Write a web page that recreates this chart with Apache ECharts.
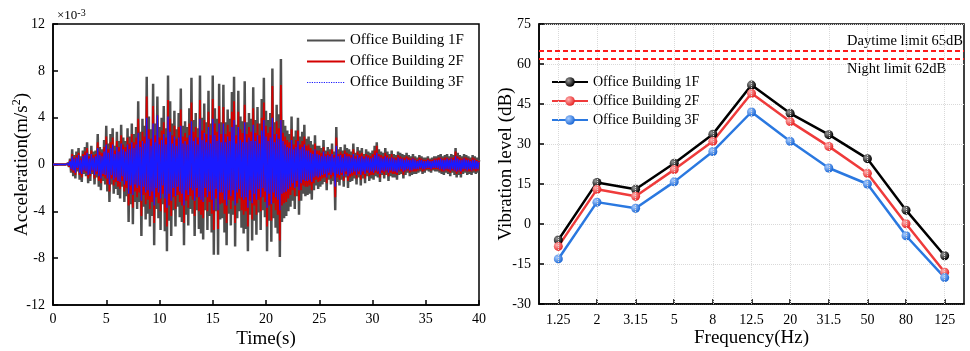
<!DOCTYPE html>
<html>
<head>
<meta charset="utf-8">
<script src="https://cdn.jsdelivr.net/npm/echarts@6/dist/echarts.min.js"></script>
<style>
  html, body { margin: 0; padding: 0; background: #fff; }
  #chart { width: 970px; height: 351px; }
</style>
</head>
<body>
<div id="chart"></div>
<script>
// left panel: acceleration time history, one sample every 0.1 s, values in 1e-3 m/s2
const sampleStep = 0.1;
const floor1Accel = [
  0,0,0,0,0,0,0,0,0,0,
  0,0,0,0,0.1,-0.2,0.5,-0.7,1.3,-1.0,
  0.8,-1.2,1.1,-0.6,1.4,-1.3,0.7,-1.5,1.2,-0.8,
  1.5,-1.0,1.9,-1.6,0.9,-1.4,1.6,-0.8,1.1,-1.7,
  1.2,-1.1,2.6,-1.9,1.5,-2.2,1.3,-1.4,2.1,-1.7,
  3.3,-2.3,1.8,-3.2,2.6,-1.7,3.1,-2.5,1.6,-2.1,
  2.8,-2.6,2.0,-2.9,3.4,-1.9,2.3,-3.2,2.0,-2.7,
  3.1,-4.9,2.4,-3.4,3.5,-5.1,2.6,-3.2,3.2,-3.8,
  5.4,-3.2,2.8,-6.1,3.9,-3.6,3.3,-4.7,7.5,-4.2,
  4.1,-5.3,3.0,-4.4,6.9,-6.9,3.5,-3.8,5.8,-4.6,
  3.2,-5.6,4.0,-3.4,5.0,-5.7,3.1,-7.4,7.6,-4.8,
  5.4,-6.1,3.5,-3.9,4.6,-5.3,3.0,-3.6,4.4,-4.5,
  6.5,-4.9,3.3,-6.9,3.7,-4.3,3.2,-5.2,4.8,-3.8,
  7.4,-4.2,3.8,-6.1,4.4,-3.9,3.1,-5.5,7.6,-5.9,
  4.0,-6.4,5.2,-3.9,3.6,-5.6,6.3,-4.4,3.5,-5.8,
  7.6,-7.7,4.8,-4.0,3.9,-7.7,6.9,-4.7,3.6,-4.6,
  6.8,-5.8,3.6,-6.9,4.7,-4.2,3.9,-5.2,6.2,-4.3,
  7.5,-7.0,3.4,-4.6,6.3,-4.0,4.1,-5.4,3.7,-5.9,
  7.1,-5.5,3.6,-7.4,4.4,-4.3,3.9,-6.5,6.6,-4.8,
  3.8,-6.0,4.9,-4.1,3.5,-5.6,5.6,-3.9,7.4,-4.5,
  4.6,-7.4,3.8,-4.8,4.4,-6.6,8.2,-4.6,3.6,-5.4,
  5.1,-5.9,4.3,-7.9,9.0,-4.9,3.8,-4.6,3.3,-4.4,
  2.9,-4.0,2.6,-3.6,4.1,-3.1,2.4,-3.8,2.9,-2.7,
  4.0,-4.3,2.4,-3.1,2.8,-2.5,3.4,-2.7,2.2,-2.6,
  2.4,-2.5,2.0,-3.0,1.7,-2.2,2.5,-1.8,1.6,-2.1,
  1.6,-1.9,1.4,-1.7,2.1,-1.5,1.2,-2.2,1.5,-1.3,
  1.3,-1.7,1.8,-1.4,1.1,-3.9,3.2,-1.5,1.3,-1.8,
  1.5,-1.3,1.2,-1.9,1.7,-1.1,1.4,-2.0,1.3,-1.5,
  1.1,-1.4,1.8,-1.2,1.0,-1.7,1.5,-1.1,1.2,-1.8,
  1.4,-1.2,0.9,-1.6,1.3,-1.0,1.1,-1.4,1.0,-1.2,
  1.2,-1.3,1.6,-1.0,1.9,-1.1,1.3,-1.5,1.1,-0.9,
  1.0,-1.2,1.4,-0.9,1.1,-1.4,0.9,-1.0,1.2,-1.1,
  0.9,-1.1,0.8,-1.3,1.1,-0.9,1.0,-0.8,0.9,-1.2,
  0.8,-0.9,1.0,-0.7,0.8,-1.0,0.7,-0.9,0.9,-0.8,
  0.7,-0.8,0.6,-0.7,0.8,-0.6,0.7,-0.8,0.6,-0.7,
  0.6,-0.5,0.7,-0.6,0.5,-0.7,0.6,-0.5,0.7,-0.6,
  0.7,-0.6,0.8,-0.7,0.9,-0.8,0.7,-0.9,0.8,-0.7,
  0.9,-0.8,0.7,-1.0,0.9,-0.7,0.8,-0.9,1.4,-1.1,
  1.0,-0.9,0.8,-1.1,0.7,-0.8,0.9,-0.7,0.8,-0.9,
  0.7,-0.8,0.6,-0.9,0.8,-0.7,0.7,-0.8,0.6,-0.7,
  0.4
];
const floor2Accel = [
  0,0,0,0,0,0,0,0,0,0,
  0,0,0,0,0.1,-0.2,0.4,-0.5,0.9,-0.7,
  0.6,-0.9,0.8,-0.4,1.0,-0.9,0.5,-1.1,0.9,-0.6,
  1.1,-0.7,1.4,-1.2,0.7,-1.0,1.2,-0.6,0.8,-1.2,
  0.9,-0.8,1.9,-1.4,1.1,-1.6,1.0,-1.0,1.5,-1.2,
  2.4,-1.7,1.3,-2.3,1.9,-1.2,2.3,-1.8,1.2,-1.5,
  2.0,-1.9,1.5,-2.1,2.5,-1.4,1.7,-2.3,1.5,-2.0,
  2.3,-3.5,1.8,-2.5,2.6,-3.7,1.9,-2.3,2.3,-2.8,
  3.9,-2.4,2.0,-4.4,2.8,-2.6,2.4,-3.4,5.8,-3.0,
  3.0,-3.8,2.2,-3.2,5.0,-5.0,2.5,-2.8,4.2,-3.3,
  2.3,-4.0,2.9,-2.5,3.6,-4.1,2.3,-5.3,5.5,-3.5,
  3.9,-4.4,2.5,-2.8,3.3,-3.8,2.2,-2.6,3.2,-3.2,
  4.7,-3.5,2.4,-5.0,2.7,-3.1,2.3,-3.7,3.5,-2.7,
  5.3,-3.0,2.8,-4.4,3.2,-2.8,2.3,-4.0,5.5,-4.3,
  2.9,-4.6,3.8,-2.8,2.6,-4.0,4.5,-3.2,2.5,-4.2,
  5.6,-5.6,3.5,-2.9,2.8,-5.5,5.0,-3.4,2.6,-3.3,
  4.9,-4.2,2.6,-5.0,3.4,-3.0,2.8,-3.8,4.5,-3.1,
  5.4,-5.0,2.5,-3.3,4.5,-2.9,3.0,-3.9,2.7,-4.3,
  5.1,-4.0,2.6,-5.3,3.2,-3.1,2.8,-4.7,4.8,-3.5,
  2.7,-4.3,3.5,-3.0,2.5,-4.0,4.0,-2.8,5.3,-3.2,
  3.3,-5.3,2.7,-3.5,3.2,-4.8,6.7,-3.3,2.6,-3.9,
  3.7,-4.3,3.1,-6.5,6.8,-3.5,2.7,-3.3,2.4,-3.2,
  2.1,-2.9,1.9,-2.6,3.0,-2.2,1.7,-2.7,2.1,-1.9,
  2.9,-3.1,1.7,-2.2,2.0,-1.8,2.4,-1.9,1.6,-1.9,
  1.7,-1.8,1.4,-2.2,1.2,-1.6,1.8,-1.3,1.2,-1.5,
  1.2,-1.4,1.0,-1.2,1.5,-1.1,0.9,-1.6,1.1,-0.9,
  0.9,-1.2,1.3,-1.0,0.8,-2.8,2.3,-1.1,0.9,-1.3,
  1.1,-0.9,0.9,-1.4,1.2,-0.8,1.0,-1.4,0.9,-1.1,
  0.8,-1.0,1.3,-0.9,0.7,-1.2,1.1,-0.8,0.9,-1.3,
  1.0,-0.9,0.7,-1.2,0.9,-0.7,0.8,-1.0,0.7,-0.9,
  0.9,-0.9,1.2,-0.7,1.6,-0.8,0.9,-1.1,0.8,-0.7,
  0.7,-0.9,1.0,-0.6,0.8,-1.0,0.6,-0.7,0.9,-0.8,
  0.6,-0.8,0.6,-0.9,0.8,-0.6,0.7,-0.6,0.6,-0.9,
  0.6,-0.6,0.7,-0.5,0.6,-0.7,0.5,-0.6,0.6,-0.6,
  0.5,-0.6,0.4,-0.5,0.6,-0.4,0.5,-0.6,0.4,-0.5,
  0.4,-0.4,0.5,-0.4,0.4,-0.5,0.4,-0.4,0.5,-0.4,
  0.5,-0.4,0.6,-0.5,0.6,-0.6,0.5,-0.6,0.6,-0.5,
  0.6,-0.6,0.5,-0.7,0.6,-0.5,0.6,-0.6,1.1,-0.8,
  0.7,-0.6,0.6,-0.8,0.5,-0.6,0.6,-0.5,0.6,-0.6,
  0.5,-0.6,0.4,-0.6,0.6,-0.5,0.5,-0.6,0.4,-0.5,
  0.3
];
const floor3Accel = [
  0,0,0,0,0,0,0,0,0,0,
  0,0,0,0,0.1,-0.1,0.3,-0.4,0.7,-0.5,
  0.5,-0.7,0.6,-0.3,0.8,-0.7,0.4,-0.8,0.7,-0.5,
  0.8,-0.6,1.0,-0.9,0.5,-0.8,0.9,-0.5,0.6,-0.9,
  0.7,-0.6,1.4,-1.0,0.8,-1.2,0.7,-0.8,1.1,-0.9,
  1.7,-1.2,1.0,-1.7,1.4,-0.9,1.7,-1.3,0.9,-1.1,
  1.5,-1.4,1.1,-1.5,1.8,-1.0,1.3,-1.7,1.1,-1.4,
  1.7,-2.5,1.3,-1.8,1.9,-2.6,1.4,-1.7,1.7,-2.0,
  2.7,-1.8,1.5,-3.1,2.0,-1.9,1.8,-2.4,4.0,-2.2,
  2.2,-2.7,1.6,-2.3,3.5,-3.5,1.9,-2.0,4.2,-2.4,
  1.7,-2.9,2.1,-1.8,2.6,-2.9,1.7,-3.7,4.1,-2.5,
  2.8,-3.1,1.8,-2.0,2.4,-2.7,1.6,-1.9,2.3,-2.3,
  3.3,-2.5,1.8,-3.5,2.0,-2.2,1.7,-2.6,2.5,-2.0,
  3.7,-2.2,2.0,-3.1,2.3,-2.0,1.7,-2.8,3.9,-3.0,
  2.1,-3.2,2.7,-2.0,1.9,-2.8,3.2,-2.3,1.8,-3.0,
  3.9,-3.9,2.5,-2.1,2.0,-3.9,3.5,-2.4,1.9,-2.4,
  3.5,-3.0,1.9,-3.5,2.4,-2.2,2.0,-2.7,3.2,-2.2,
  3.8,-3.5,1.8,-2.4,3.2,-2.1,2.1,-2.8,1.9,-3.0,
  3.6,-2.8,1.9,-3.7,2.3,-2.2,2.0,-3.3,3.4,-2.5,
  2.0,-3.0,2.5,-2.1,1.8,-2.8,2.9,-2.0,3.8,-2.3,
  2.4,-3.7,2.0,-2.5,2.3,-3.4,4.0,-2.4,1.9,-2.8,
  2.6,-3.0,2.2,-3.9,3.8,-2.5,2.0,-2.4,1.7,-2.3,
  1.5,-2.1,1.4,-1.9,2.1,-1.6,1.3,-2.0,1.5,-1.4,
  2.0,-2.2,1.3,-1.6,1.5,-1.3,1.7,-1.4,1.2,-1.4,
  1.2,-1.3,1.0,-1.5,0.9,-1.1,1.3,-1.0,0.9,-1.1,
  0.8,-1.0,0.7,-0.9,1.1,-0.8,0.7,-1.1,0.8,-0.7,
  0.7,-0.9,0.9,-0.7,0.6,-1.9,1.6,-0.8,0.7,-0.9,
  0.8,-0.7,0.6,-1.0,0.9,-0.6,0.7,-1.0,0.7,-0.8,
  0.6,-0.7,0.9,-0.6,0.5,-0.9,0.8,-0.6,0.6,-0.9,
  0.7,-0.6,0.5,-0.8,0.7,-0.5,0.6,-0.7,0.5,-0.6,
  0.6,-0.7,0.8,-0.5,1.0,-0.6,0.7,-0.8,0.6,-0.5,
  0.5,-0.6,0.7,-0.5,0.6,-0.7,0.5,-0.5,0.6,-0.6,
  0.5,-0.6,0.4,-0.7,0.6,-0.5,0.5,-0.4,0.5,-0.6,
  0.4,-0.5,0.5,-0.4,0.4,-0.5,0.4,-0.5,0.5,-0.4,
  0.4,-0.4,0.3,-0.4,0.4,-0.3,0.4,-0.4,0.3,-0.4,
  0.3,-0.3,0.4,-0.3,0.3,-0.4,0.3,-0.3,0.4,-0.3,
  0.4,-0.3,0.4,-0.4,0.5,-0.4,0.4,-0.5,0.4,-0.4,
  0.5,-0.4,0.4,-0.5,0.5,-0.4,0.4,-0.5,0.7,-0.6,
  0.5,-0.5,0.4,-0.6,0.4,-0.4,0.5,-0.4,0.4,-0.5,
  0.4,-0.4,0.3,-0.5,0.4,-0.4,0.4,-0.4,0.3,-0.4,
  0.2
];

// right panel: vibration level per 1/3 octave band
const freqBands = ['1.25', '2', '3.15', '5', '8', '12.5', '20', '31.5', '50', '80', '125'];
const level1F = [-6, 15.6, 13, 22.8, 33.7, 52.1, 41.5, 33.5, 24.5, 5.2, -11.9];
const level2F = [-8.4, 13, 10.4, 20.4, 31, 49, 38.4, 29.1, 19, 0.1, -18.1];
const level3F = [-13.1, 8.2, 5.9, 15.8, 27.2, 42, 31, 21, 15, -4.4, -20.1];
const dayLimit = 65;
const nightLimit = 62;

const seriesNames = ['Office Building 1F', 'Office Building 2F', 'Office Building 3F'];

const serif = 'Liberation Serif, Times New Roman, serif';
const chart = echarts.init(document.getElementById('chart'));

const toPairs = (arr) => arr.map((v, i) => [Math.round(i * sampleStep * 10) / 10, v]);

const ball = (light, dark) => new echarts.graphic.RadialGradient(0.35, 0.35, 0.65, [
  { offset: 0, color: light },
  { offset: 1, color: dark },
]);

const frameAxis = {
  axisLine: { show: true, onZero: false, lineStyle: { color: '#000', width: 1.5 } },
  axisTick: { show: true, inside: true, length: 5, lineStyle: { color: '#000', width: 1.5 } },
  axisLabel: { color: '#000', fontFamily: serif, fontSize: 14 },
  nameTextStyle: { color: '#000', fontFamily: serif, fontSize: 19 },
  nameMoveOverlap: false,
};

const gridDots = { color: '#d9d9d9', type: 'dotted', width: 1 };

chart.setOption({
  animation: false,
  backgroundColor: '#fff',
  grid: [
    { left: 53, right: 491, top: 24, bottom: 46, show: true, borderColor: '#000', borderWidth: 1.5, outerBoundsMode: 'none' },
    { left: 539, right: 6, top: 24, bottom: 47, show: true, borderColor: '#000', borderWidth: 1.5, outerBoundsMode: 'none' },
  ],
  legend: [
    {
      data: seriesNames.map((n, i) => ({
        name: n,
        itemStyle: { opacity: 0 },
        lineStyle: i === 2 ? { type: 'dotted', width: 1.2 } : undefined,
      })),
      orient: 'vertical',
      left: 301,
      top: 28,
      itemWidth: 38,
      itemHeight: 14,
      itemGap: 6,
      textStyle: { color: '#000', fontFamily: serif, fontSize: 15 },
    },
    {
      data: seriesNames.map((n) => n + ' '),
      orient: 'vertical',
      left: 546,
      top: 70,
      itemWidth: 36,
      itemHeight: 12,
      itemGap: 5,
      formatter: (n) => n.trim(),
      textStyle: { color: '#000', fontFamily: serif, fontSize: 14 },
    },
  ],
  xAxis: [
    {
      ...frameAxis,
      type: 'value',
      gridIndex: 0,
      min: 0,
      max: 40,
      interval: 5,
      name: 'Time(s)',
      nameLocation: 'middle',
      nameGap: 25,
      axisLabel: { ...frameAxis.axisLabel, margin: 7 },
      splitLine: { show: false },
    },
    {
      ...frameAxis,
      type: 'category',
      gridIndex: 1,
      data: freqBands,
      boundaryGap: true,
      name: 'Frequency(Hz)',
      nameLocation: 'middle',
      nameGap: 25,
      axisTick: { ...frameAxis.axisTick, alignWithLabel: true },
      axisLabel: { ...frameAxis.axisLabel, margin: 9 },
      splitLine: { show: false },
    },
  ],
  yAxis: [
    {
      ...frameAxis,
      type: 'value',
      gridIndex: 0,
      min: -12,
      max: 12,
      interval: 4,
      name: 'Acceleration(m/s{sup|2})',
      nameLocation: 'middle',
      nameGap: 20,
      nameTextStyle: {
        ...frameAxis.nameTextStyle,
        rich: { sup: { fontFamily: serif, fontSize: 12, verticalAlign: 'top', padding: [0, 0, 10, 0], color: '#000' } },
      },
      axisLabel: { ...frameAxis.axisLabel, margin: 8 },
      splitLine: { show: false },
    },
    {
      ...frameAxis,
      type: 'value',
      gridIndex: 1,
      min: -30,
      max: 75,
      interval: 15,
      name: 'Vibration level (dB)',
      nameLocation: 'middle',
      nameGap: 23,
      axisLabel: { ...frameAxis.axisLabel, margin: 8 },
      splitLine: { show: true, lineStyle: gridDots },
    },
  ],
  series: [
    {
      name: seriesNames[0], type: 'line', xAxisIndex: 0, yAxisIndex: 0,
      data: toPairs(floor1Accel), symbol: 'none',
      lineStyle: { color: '#4f4f4f', width: 2.5 }, itemStyle: { color: '#4f4f4f' },
    },
    {
      name: seriesNames[1], type: 'line', xAxisIndex: 0, yAxisIndex: 0,
      data: toPairs(floor2Accel), symbol: 'none',
      lineStyle: { color: '#d40000', width: 1.8 }, itemStyle: { color: '#d40000' },
    },
    {
      name: seriesNames[2], type: 'line', xAxisIndex: 0, yAxisIndex: 0,
      data: toPairs(floor3Accel), symbol: 'none',
      lineStyle: { color: '#1a1aff', width: 1.3 }, itemStyle: { color: '#1a1aff' },
    },
    {
      // vertical dotted grid at every band centre
      name: 'bandGrid', type: 'line', xAxisIndex: 1, yAxisIndex: 1, data: [], z: 1,
      markLine: {
        silent: true, symbol: 'none', label: { show: false },
        lineStyle: gridDots,
        data: freqBands.map((f) => ({ xAxis: f })),
      },
    },
    {
      name: seriesNames[0] + ' ', type: 'line', xAxisIndex: 1, yAxisIndex: 1,
      data: level1F, symbol: 'circle', symbolSize: 9,
      lineStyle: { color: '#000', width: 2.5 }, itemStyle: { color: ball('#9a9a9a', '#000') },
      markLine: {
        silent: true, symbol: 'none', label: { show: false },
        lineStyle: { color: '#ff1a1a', type: [5, 3], width: 2 },
        data: [{ yAxis: dayLimit }, { yAxis: nightLimit }],
      },
    },
    {
      name: seriesNames[1] + ' ', type: 'line', xAxisIndex: 1, yAxisIndex: 1,
      data: level2F, symbol: 'circle', symbolSize: 9,
      lineStyle: { color: '#ef3b3b', width: 2.5 }, itemStyle: { color: ball('#ffb3b3', '#e82a2a') },
    },
    {
      name: seriesNames[2] + ' ', type: 'line', xAxisIndex: 1, yAxisIndex: 1,
      data: level3F, symbol: 'circle', symbolSize: 9,
      lineStyle: { color: '#2a78e0', width: 2.5 }, itemStyle: { color: ball('#a8ccff', '#1f6ad6') },
    },
  ],
});

// limit labels and the x10^-3 multiplier
const yDay = chart.convertToPixel({ yAxisIndex: 1 }, dayLimit);
const yNight = chart.convertToPixel({ yAxisIndex: 1 }, nightLimit);
chart.setOption({
  graphic: [
    {
      type: 'text', left: 57, top: 8,
      style: {
        text: '×10{sup|-3}', fill: '#000', font: '13px ' + serif,
        rich: { sup: { fontSize: 10, fontFamily: serif, verticalAlign: 'top', padding: [0, 0, 6, 0] } },
      },
    },
    {
      type: 'text', x: 847, y: yDay - 2,
      style: { text: 'Daytime limit 65dB', fill: '#000', font: '14.5px ' + serif, textVerticalAlign: 'bottom' },
    },
    {
      type: 'text', x: 847, y: yNight + 3,
      style: { text: 'Night limit 62dB', fill: '#000', font: '14.5px ' + serif, textVerticalAlign: 'top' },
    },
  ],
});
</script>
</body>
</html>
